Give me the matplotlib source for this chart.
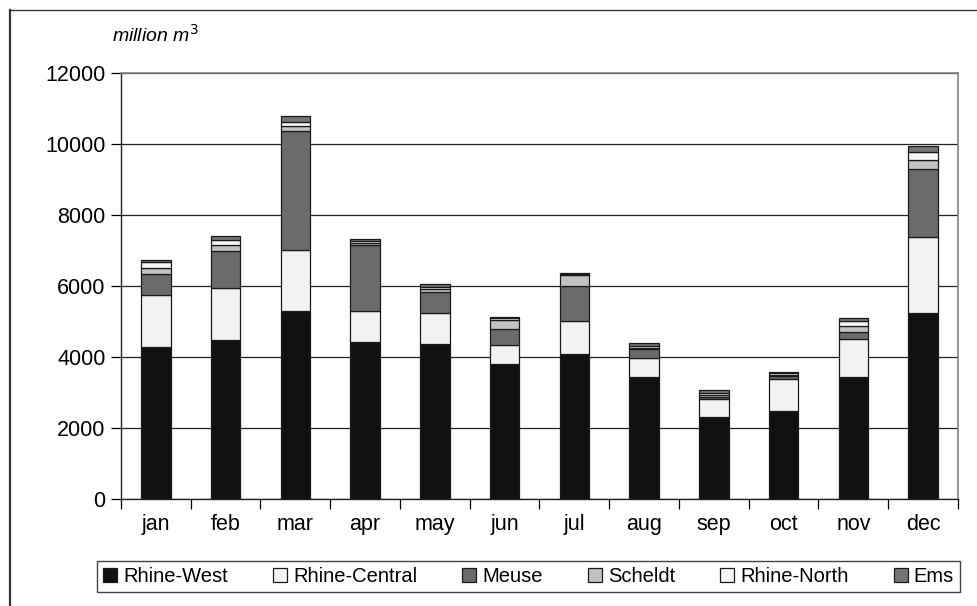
import numpy as np
import matplotlib.pyplot as plt
from matplotlib.patches import Patch
from matplotlib.lines import Line2D

plt.rcParams['font.family'] = ['Liberation Sans', 'DejaVu Sans']

months = ['jan', 'feb', 'mar', 'apr', 'may', 'jun',
          'jul', 'aug', 'sep', 'oct', 'nov', 'dec']

# monthly discharge per river basin, million m3
rhine_west = [4270, 4490, 5290, 4420, 4360, 3800, 4085, 3445, 2320, 2480, 3445, 5250]
rhine_central = [1480, 1465, 1735, 885, 880, 550, 920, 535, 490, 910, 1060, 2140]
meuse = [600, 1035, 3335, 1840, 590, 450, 985, 245, 75, 65, 200, 1915]
scheldt = [160, 170, 150, 65, 85, 235, 320, 40, 55, 45, 160, 245]
rhine_north = [160, 140, 115, 65, 55, 65, 25, 45, 55, 40, 150, 235]
ems = [50, 105, 150, 55, 75, 30, 35, 85, 75, 45, 95, 170]

series = [
    ('Rhine-West', rhine_west, '#111111'),
    ('Rhine-Central', rhine_central, '#f2f2f2'),
    ('Meuse', meuse, '#6b6b6b'),
    ('Scheldt', scheldt, '#c2c2c2'),
    ('Rhine-North', rhine_north, '#f6f6f6'),
    ('Ems', ems, '#747474'),
]

fig = plt.figure(figsize=(9.78, 6.06), dpi=100)
ax = fig.add_axes([121 / 978, 1 - 499 / 606, (958 - 121) / 978, (499 - 73) / 606])

x = np.arange(len(months))
bottom = np.zeros(len(months))
for name, vals, col in series:
    vals = np.array(vals, dtype=float)
    ax.bar(x, vals, width=0.42, bottom=bottom, color=col,
           edgecolor='#1a1a1a', linewidth=0.9, zorder=3)
    bottom += vals

ax.set_xlim(-0.5, len(months) - 0.5)
ax.set_ylim(0, 12000)
ax.set_yticks(np.arange(0, 12001, 2000))
ax.tick_params(axis='y', labelsize=15.5, length=7, width=0.9, direction='out', pad=4)
ax.set_xticks(x)
ax.set_xticklabels(months, fontsize=15.5)
ax.tick_params(axis='x', length=0, pad=11)
# ticks between categories
ax.set_xticks(np.arange(-0.5, len(months), 1), minor=True)
ax.tick_params(axis='x', which='minor', length=7, width=0.9, direction='out')

ax.yaxis.grid(True, color='#222222', linewidth=0.9, zorder=0)
ax.set_axisbelow(True)
for s in ['left', 'bottom']:
    ax.spines[s].set_color('#222222')
    ax.spines[s].set_linewidth(1.0)
for s in ['top', 'right']:
    ax.spines[s].set_color('#808080')
    ax.spines[s].set_linewidth(1.2)

fig.text(112 / 978, 1 - 42 / 606, 'million m$^{\\mathit{3}}$', fontsize=14,
         style='italic', ha='left', va='baseline')

handles = [Patch(facecolor=col, edgecolor='#1a1a1a', linewidth=0.9)
           for _, _, col in series]
labels = [name for name, _, _ in series]
leg = fig.legend(handles, labels, loc='lower left', ncol=6, fontsize=14.5,
                 bbox_to_anchor=(97 / 978, 1 - 592 / 606, (960 - 97) / 978, (592 - 553) / 606),
                 mode='expand', borderaxespad=0, handlelength=0.7, handleheight=0.7,
                 handletextpad=0.3, columnspacing=0.8, fancybox=False,
                 edgecolor='#444444', framealpha=1, borderpad=0.3)
leg.get_frame().set_linewidth(1.0)

# outer frame lines (left and top)
fig.add_artist(Line2D([10 / 978, 10 / 978], [0, 1 - 10 / 606], transform=fig.transFigure,
                      color='#333333', linewidth=1.6))
fig.add_artist(Line2D([10 / 978, 1], [1 - 10 / 606, 1 - 10 / 606], transform=fig.transFigure,
                      color='#333333', linewidth=1.0))

fig.savefig('out.png', dpi=100)
